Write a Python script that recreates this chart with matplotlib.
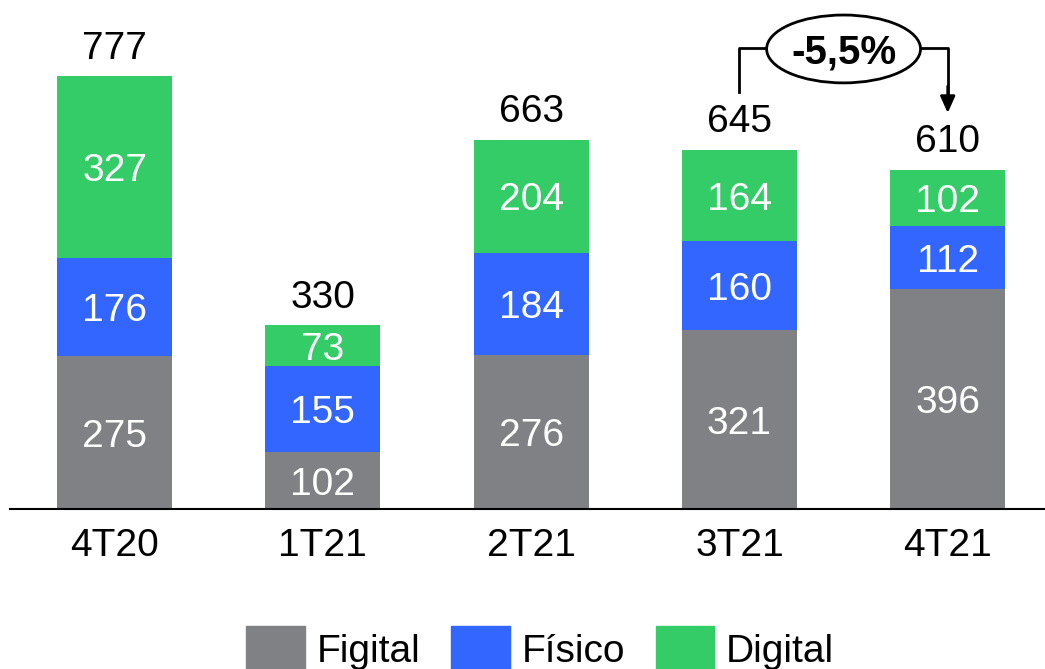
import matplotlib.pyplot as plt
from matplotlib.patches import Ellipse, Patch
import numpy as np

plt.rcParams['font.family'] = ['Liberation Sans', 'DejaVu Sans']

# data
quarters = ['4T20', '1T21', '2T21', '3T21', '4T21']
figital = [275, 102, 276, 321, 396]
fisico = [176, 155, 184, 160, 112]
digital = [327, 73, 204, 164, 102]
totals = [777, 330, 663, 645, 610]
variation = '-5,5%'

c_fig = '#808184'
c_fis = '#3366FF'
c_dig = '#33CC66'

fig = plt.figure(figsize=(10.45, 6.69), dpi=100)
ax = fig.add_axes([10 / 1045, 160 / 669, 1035 / 1045, 509 / 669])

x = np.arange(len(quarters))
w = 0.552
fs = 28

b1 = ax.bar(x, figital, w, color=c_fig)
b2 = ax.bar(x, fisico, w, bottom=figital, color=c_fis)
bot3 = np.array(figital) + np.array(fisico)
b3 = ax.bar(x, digital, w, bottom=bot3, color=c_dig)

for vals, bots in [(figital, np.zeros(5)), (fisico, figital), (digital, bot3)]:
    for i, v in enumerate(vals):
        ax.text(x[i], bots[i] + v / 2, str(v), ha='center', va='center_baseline',
                color='white', fontsize=fs)

for i, t in enumerate(totals):
    ax.annotate(str(t), (x[i], t), xytext=(0, 7), textcoords='offset points',
                ha='center', va='bottom', fontsize=fs)

ax.set_xlim(-0.502, 4.467)
ax.set_ylim(0, 915)
ax.set_xticks(x)
ax.set_xticklabels(quarters, fontsize=fs)
ax.tick_params(axis='x', length=0, pad=14)
ax.set_yticks([])
for s in ['top', 'right', 'left']:
    ax.spines[s].set_visible(False)
ax.spines['bottom'].set_linewidth(1.5)

# variation bracket 3T21 -> 4T21
yh = 829
ax.plot([3, 3, 3.5], [750, yh, yh], color='black', lw=2, clip_on=False)
ax.plot([3.5, 4.0, 4.0], [yh, yh, 740], color='black', lw=2, clip_on=False)
ax.annotate('', xy=(4.0, 712), xytext=(4.0, 760),
            arrowprops=dict(arrowstyle='-|>,head_width=0.45,head_length=1.0',
                            color='black', lw=2, shrinkA=0, shrinkB=0))
ax.add_patch(Ellipse((3.5, 827), 0.739, 122, facecolor='white',
                     edgecolor='black', lw=2, clip_on=False, zorder=3))
ax.text(3.5, 827, variation, ha='center', va='center_baseline', fontsize=29,
        fontweight='bold', zorder=4)

handles = [Patch(color=c_fig), Patch(color=c_fis), Patch(color=c_dig)]
fig.legend(handles, ['Figital', 'Físico', 'Digital'], loc='center',
           bbox_to_anchor=(0.517, 0.03), ncol=3, frameon=False, fontsize=fs,
           handlelength=1.5, handleheight=1.4, handletextpad=0.3,
           columnspacing=0.8)

fig.savefig('out.png', dpi=100)
